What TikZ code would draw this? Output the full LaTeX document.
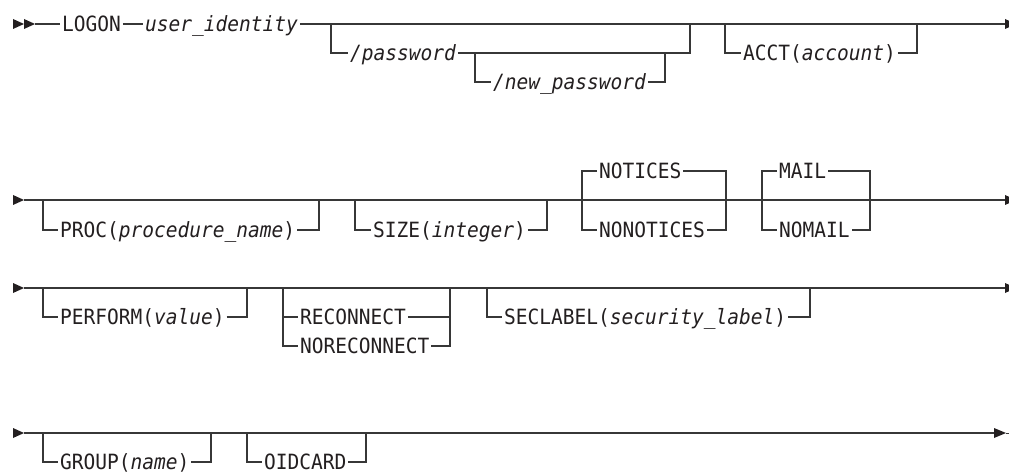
\documentclass[tikz,border=0pt]{standalone}
\usepackage{fontspec}
\newfontfamily\synmono[FakeStretch=0.93]{DejaVu Sans Mono}
\definecolor{lc}{RGB}{55,55,55}
\definecolor{tc}{RGB}{35,31,32}
\begin{document}
\begin{tikzpicture}[x=1pt,y=-1pt,
  ln/.style={draw=lc,line width=1.3pt},
  tx/.style={anchor=west,inner xsep=2pt,inner ysep=0pt,outer sep=0pt,
    text height=15pt,text depth=0pt,text=tc,
    font=\synmono\fontsize{21}{22}\selectfont},
  tip/.style={fill=tc,draw=none}]
\useasboundingbox (0,0) rectangle (1009,473);
% ---------- row 1 ----------
\fill[tip] (13,19) -- (24,24) -- (13,29) -- cycle;
\fill[tip] (24,19) -- (35,24) -- (24,29) -- cycle;
\coordinate (r1s) at (35,24);
\coordinate (r1e) at (1005,24);
\node[tx] (logon) at (60,24) {LOGON};
\node[tx] (uid) at (143,24) {\itshape user\_identity};
\node[tx] (pw) at (348,53) {\itshape /password};
\node[tx] (npw) at (491,82) {\itshape /new\_password};
\node[tx] (acct) at (741,53) {ACCT(\textit{account})};
\coordinate (a1) at (331,24);
\coordinate (a2) at (690,24);
\coordinate (a3) at (475,53);
\coordinate (a4) at (665,53);
\coordinate (a5) at (725,24);
\coordinate (a6) at (917,24);
\draw[ln] (r1s) -- (logon.west);
\draw[ln] (logon.east) -- (uid.west);
\draw[ln] (uid.east) -- (r1e);
\draw[ln] (a1) |- (pw.west);
\draw[ln] (pw.east) -| (a2);
\draw[ln] (a3) |- (npw.west);
\draw[ln] (npw.east) -| (a4);
\draw[ln] (a5) |- (acct.west);
\draw[ln] (acct.east) -| (a6);
\fill[tip] (1005,19) -- (1016,24) -- (1005,29) -- cycle;
% ---------- row 2 ----------
\fill[tip] (13,195) -- (24,200) -- (13,205) -- cycle;
\coordinate (r2s) at (24,200);
\coordinate (r2e) at (1005,200);
\draw[ln] (r2s) -- (r2e);
\node[tx] (proc) at (58,230) {PROC(\textit{procedure\_name})};
\node[tx] (size) at (371,230) {SIZE(\textit{integer})};
\node[tx] (not) at (597,171) {NOTICES};
\node[tx] (nonot) at (597,230) {NONOTICES};
\node[tx] (mail) at (777,171) {MAIL};
\node[tx] (nomail) at (777,230) {NOMAIL};
\coordinate (b1) at (43,200);
\coordinate (b2) at (319,200);
\coordinate (b3) at (355,200);
\coordinate (b4) at (547,200);
\coordinate (b5) at (582,171);
\coordinate (b6) at (726,171);
\coordinate (b7) at (762,171);
\coordinate (b8) at (870,171);
\draw[ln] (b1) |- (proc.west);
\draw[ln] (proc.east) -| (b2);
\draw[ln] (b3) |- (size.west);
\draw[ln] (size.east) -| (b4);
\draw[ln] (not.west) -- (b5) |- (nonot.west);
\draw[ln] (not.east) -- (b6) |- (nonot.east);
\draw[ln] (mail.west) -- (b7) |- (nomail.west);
\draw[ln] (mail.east) -- (b8) |- (nomail.east);
\fill[tip] (1005,195) -- (1016,200) -- (1005,205) -- cycle;
% ---------- row 3 ----------
\fill[tip] (13,283) -- (24,288) -- (13,293) -- cycle;
\coordinate (r3s) at (24,288);
\coordinate (r3e) at (1005,288);
\draw[ln] (r3s) -- (r3e);
\node[tx] (perf) at (58,317) {PERFORM(\textit{value})};
\node[tx] (rec) at (298,317) {RECONNECT};
\node[tx] (norec) at (298,346) {NORECONNECT};
\node[tx] (sec) at (502,317) {SECLABEL(\textit{security\_label})};
\coordinate (c1) at (43,288);
\coordinate (c2) at (247,288);
\coordinate (c3) at (283,288);
\coordinate (c4) at (450,288);
\coordinate (c5) at (487,288);
\coordinate (c6) at (810,288);
\draw[ln] (c1) |- (perf.west);
\draw[ln] (perf.east) -| (c2);
\draw[ln] (c3) |- (norec.west);
\draw[ln] (c3 |- rec.west) -- (rec.west);
\draw[ln] (c4) |- (norec.east);
\draw[ln] (rec.east) -- (c4 |- rec.east);
\draw[ln] (c5) |- (sec.west);
\draw[ln] (sec.east) -| (c6);
\fill[tip] (1005,283) -- (1016,288) -- (1005,293) -- cycle;
% ---------- row 4 ----------
\fill[tip] (13,428) -- (24,433) -- (13,438) -- cycle;
\coordinate (r4s) at (24,433);
\coordinate (r4e) at (994,433);
\draw[ln] (r4s) -- (r4e);
\node[tx] (grp) at (58,462) {GROUP(\textit{name})};
\node[tx] (oid) at (262,462) {OIDCARD};
\coordinate (d1) at (43,433);
\coordinate (d2) at (211,433);
\coordinate (d3) at (247,433);
\coordinate (d4) at (366,433);
\draw[ln] (d1) |- (grp.west);
\draw[ln] (grp.east) -| (d2);
\draw[ln] (d3) |- (oid.west);
\draw[ln] (oid.east) -| (d4);
\fill[tip] (994,428) -- (1006,433) -- (994,438) -- cycle;
\draw[draw=lc,line width=1pt] (1006,433) -- (1009,433);
\end{tikzpicture}
\end{document}
